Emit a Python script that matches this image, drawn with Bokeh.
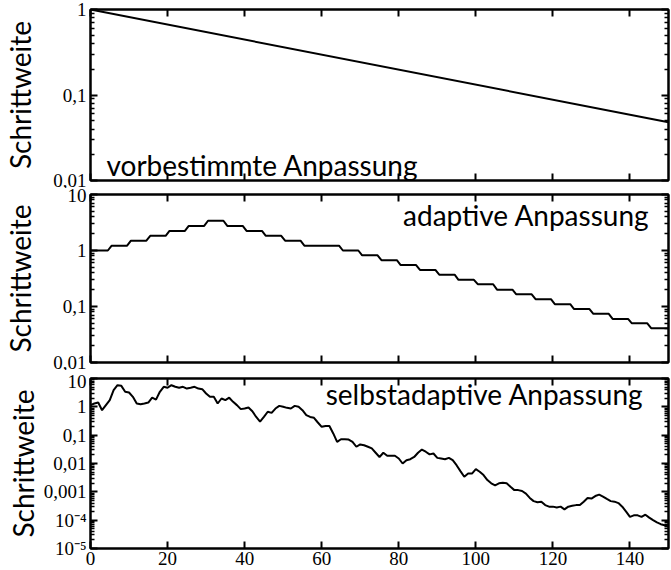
import math
from bokeh.plotting import figure
from bokeh.layouts import column
from bokeh.models import (LogAxis, LinearAxis, FixedTicker, Label, Range1d,
                          CustomJSTickFormatter)
from bokeh.embed import file_html
from bokeh.resources import INLINE

# ---------------- data ----------------
x_limits = [0, 150]
x_tick_values = [0, 20, 40, 60, 80, 100, 120, 140]

# panel 1: predetermined adaptation (straight line in log scale)
fixed_gen = [0, 150]
fixed_step = [1.0, 0.048]

# panel 2: adaptive adaptation (step levels and where each level starts)
adapt_start = [0, 5, 10, 15, 20, 25, 30, 35, 40, 45, 50, 55, 65, 70, 75, 80, 85,
               90, 95, 100, 105, 110, 115, 120, 125, 130, 135, 140, 145]
adapt_level = [1.0, 1.22, 1.5, 1.83, 2.24, 2.75, 3.4, 2.75, 2.24, 1.83, 1.5, 1.22,
               1.0, 0.82, 0.67, 0.55, 0.45, 0.37, 0.30, 0.25, 0.20, 0.165, 0.135,
               0.11, 0.09, 0.074, 0.06, 0.05, 0.041]

# panel 3: self-adaptive adaptation
self_gen = list(range(151))
self_step = [
    1.15, 1.31, 1.42, 0.76, 1.15, 1.72, 3.9, 5.8, 5.5, 3.4,
    3.2, 2.25, 1.31, 1.24, 1.31, 1.42, 2.1, 1.8, 3.4, 5.1,
    4.7, 5.8, 5.1, 4.7, 5.1, 4.4, 4.7, 5.1, 4.4, 4.2,
    2.96, 2.25, 2.25, 1.31, 1.97, 1.72, 2.1, 1.5, 1.15, 0.83,
    0.87, 0.95, 0.70, 0.44, 0.30, 0.44, 0.67, 0.61, 0.87, 1.08,
    1.0, 0.92, 0.87, 1.08, 1.0, 0.76, 0.51, 0.44, 0.41, 0.28,
    0.197, 0.21, 0.21, 0.115, 0.058, 0.072, 0.072, 0.070, 0.058, 0.039,
    0.047, 0.044, 0.039, 0.034, 0.024, 0.017, 0.024, 0.0187, 0.0187, 0.0187,
    0.015, 0.010, 0.0131, 0.0142, 0.017, 0.024, 0.031, 0.026, 0.021, 0.0226,
    0.0158, 0.015, 0.0142, 0.0158, 0.0131, 0.0087, 0.0054, 0.0034, 0.0044, 0.0044,
    0.0063, 0.0051, 0.0039, 0.0026, 0.0020, 0.0017, 0.0020, 0.0021, 0.0020, 0.0015,
    0.00115, 0.00115, 0.00107, 0.00087, 0.00061, 0.00047, 0.00043, 0.00045, 0.00034, 0.00030,
    0.00030, 0.00028, 0.00030, 0.00024, 0.00030, 0.00032, 0.00034, 0.00034, 0.00045, 0.00061,
    0.00058, 0.00071, 0.00080, 0.00068, 0.00056, 0.00047, 0.00045, 0.00040, 0.00030, 0.00020,
    0.00013, 0.000148, 0.000148, 0.00013, 0.000156, 0.000123, 0.00010, 0.000083, 0.000072, 0.000066,
    0.000060,
]

panel_titles = ["vorbestimmte Anpassung", "adaptive Anpassung", "selbstadaptive Anpassung"]
y_label = "Schrittweite"

top_ticks = [0.01, 0.1, 1]
top_labels = ["0,01", "0,1", "1"]
mid_ticks = [0.01, 0.1, 1, 10]
mid_labels = ["0,01", "0,1", "1", "10"]
bot_ticks = [1e-5, 1e-4, 1e-3, 0.01, 0.1, 1, 10]
bot_labels = ["10\u207b\u2075", "10\u207b\u2074", "0,001", "0,01", "0,1", "1", "10"]

# ---------------- styling helpers ----------------
SERIF = "Liberation Serif"
SANS = "Lato"

LOOKUP = """
for (let i = 0; i < tv.length; i++) {
  if (Math.abs(tick - tv[i]) <= 1e-6 * Math.abs(tv[i])) { return tl[i]; }
}
return "" + tick;
"""


def minor_ticks(lo, hi):
    d0 = int(round(math.log10(lo)))
    d1 = int(round(math.log10(hi)))
    return [k * 10.0 ** d for d in range(d0, d1) for k in range(2, 10)]


def style_axis(ax, show_labels, font_size="19px", minor=True):
    ax.major_tick_in = 7
    ax.major_tick_out = 0
    ax.minor_tick_in = 4 if minor else 0
    ax.minor_tick_out = 0
    ax.major_tick_line_width = 2
    ax.minor_tick_line_width = 1.5
    ax.major_tick_line_color = "black"
    ax.minor_tick_line_color = "black"
    ax.axis_line_width = 2
    ax.axis_line_color = "black"
    if show_labels:
        ax.major_label_text_font = SERIF
        ax.major_label_text_font_size = font_size
        ax.major_label_text_color = "black"
        ax.major_label_standoff = 4
    else:
        ax.major_label_text_font_size = "1px"
        ax.major_label_text_alpha = 0
        ax.major_label_standoff = 0


def panel(height, ticks, labels, title, border_top, border_bottom, show_x,
          label_standoff, title_spec):
    ylo, yhi = ticks[0], ticks[-1]
    p = figure(width=671, height=height,
               x_range=Range1d(x_limits[0], x_limits[1]),
               y_range=Range1d(ylo, yhi),
               y_axis_type="log", output_backend="svg", toolbar_location=None,
               min_border_left=89, min_border_right=3,
               min_border_top=border_top, min_border_bottom=border_bottom,
               background_fill_color="white", border_fill_color="white")
    p.grid.visible = False
    p.outline_line_color = "black"
    p.outline_line_width = 2

    ly = p.yaxis[0]
    ly.ticker = FixedTicker(ticks=ticks, minor_ticks=minor_ticks(ylo, yhi))
    ly.formatter = CustomJSTickFormatter(args=dict(tv=ticks, tl=labels), code=LOOKUP)
    style_axis(ly, True)
    ly.axis_label = y_label
    ly.axis_label_text_font = SANS
    ly.axis_label_text_font_size = "28px"
    ly.axis_label_text_font_style = "normal"
    ly.axis_label_text_color = "black"
    ly.axis_label_standoff = label_standoff

    ry = LogAxis(ticker=FixedTicker(ticks=ticks, minor_ticks=minor_ticks(ylo, yhi)))
    style_axis(ry, False)
    p.add_layout(ry, "right")

    bx = p.xaxis[0]
    bx.ticker = FixedTicker(ticks=x_tick_values)
    style_axis(bx, show_x, minor=False)
    if show_x:
        bx.major_label_standoff = 3

    tx = LinearAxis(ticker=FixedTicker(ticks=x_tick_values))
    style_axis(tx, False, minor=False)
    p.add_layout(tx, "above")

    ax_, ay_, align, xo, yo = title_spec
    p.add_layout(Label(x=ax_, y=ay_, x_offset=xo, y_offset=yo, text=title,
                       text_font=SANS, text_font_size="28px", text_color="black",
                       text_align=align, text_baseline="alphabetic"))
    return p


# panel 1
p1 = panel(188, top_ticks, top_labels, panel_titles[0], 9, 8, False, 13,
           (x_limits[0], top_ticks[0], "left", 16, 16))
p1.line(fixed_gen, fixed_step, line_color="black", line_width=2)

# panel 2
adapt_end = adapt_start[1:] + [x_limits[1]]
sx, sy = [], []
for s, e, lev in zip(adapt_start, adapt_end, adapt_level):
    sx += [s if s == x_limits[0] else s + 0.5, e if e == x_limits[1] else e - 0.5]
    sy += [lev, lev]
p2 = panel(182, mid_ticks, mid_labels, panel_titles[1], 6, 8, False, 13,
           (x_limits[1], mid_ticks[-1], "right", -19, -20))
p2.line(sx, sy, line_color="black", line_width=2)

# panel 3
p3 = panel(200, bot_ticks, bot_labels, panel_titles[2], 8, 22, True, 1,
           (x_limits[1], bot_ticks[-1], "right", -25, -15))
p3.line(self_gen, self_step, line_color="black", line_width=2)

layout = column(p1, p2, p3, spacing=0)
open("out.html", "w").write(file_html(layout, INLINE))
